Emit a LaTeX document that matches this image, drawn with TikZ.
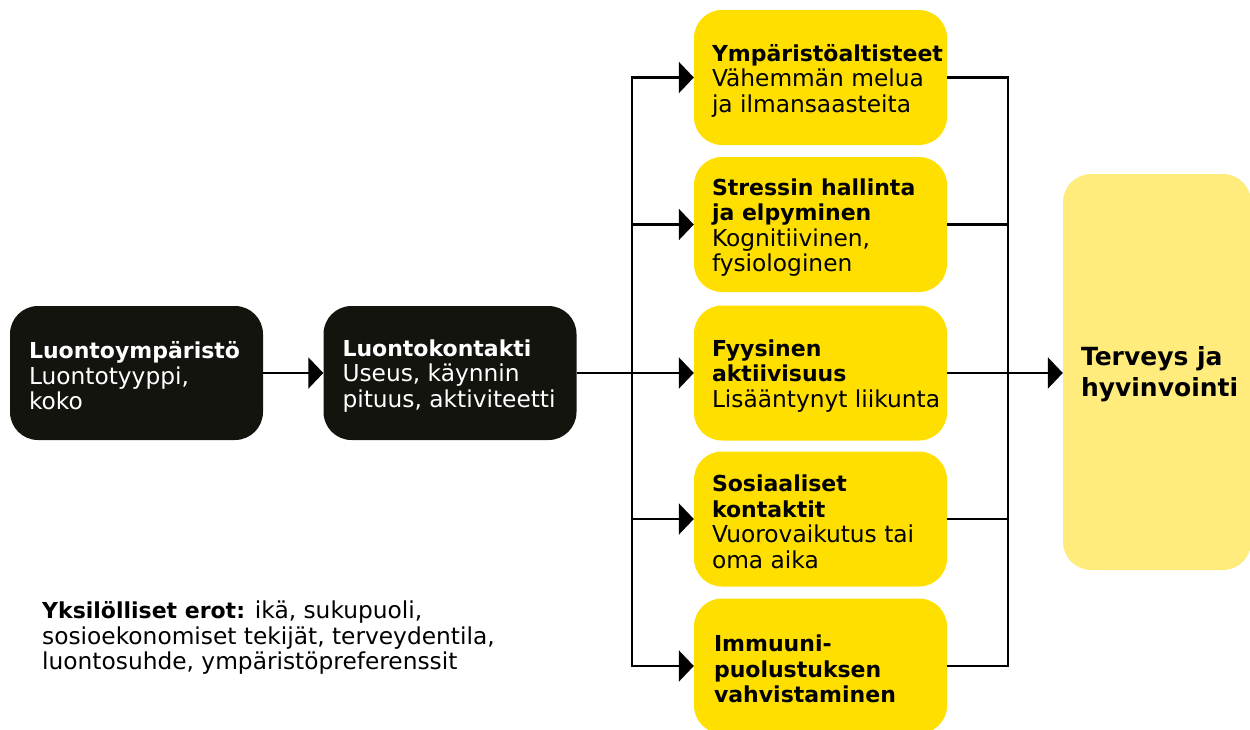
\documentclass[tikz,border=0pt]{standalone}
\usepackage{fontspec}
\setmainfont{DejaVu Sans}
\usetikzlibrary{arrows.meta}
\definecolor{boxblack}{HTML}{14140F}
\definecolor{boxyellow}{HTML}{FFDF00}
\definecolor{paleyellow}{HTML}{FFEC7D}
\newcommand\bt[1]{{\fontsize{22}{25.5}\selectfont\bfseries #1}}
\begin{document}
\begin{tikzpicture}[x=1pt,y=-1pt,
  darkbox/.style={fill=boxblack, rounded corners=28pt, minimum width=253pt, minimum height=134pt, inner sep=0pt},
  ybox/.style={fill=boxyellow, rounded corners=28pt, minimum width=253pt, minimum height=135pt, inner sep=0pt},
  bigbox/.style={fill=paleyellow, rounded corners=28pt, minimum width=188pt, minimum height=396pt, inner sep=0pt},
  txt/.style={font=\fontsize{23.3}{25.5}\selectfont, align=left, inner sep=0pt, anchor=west},
  bigtxt/.style={font=\fontsize{25}{31}\selectfont\bfseries, align=left, inner sep=0pt, anchor=west},
  conn/.style={draw=black, line width=2.4pt},
  arr/.style={conn, -{Triangle[length=15pt,width=31pt]}}
]
\useasboundingbox (0,0) rectangle (1250,729);

% boxes
\node[darkbox] (env) at (136.5,373) {};
\node[darkbox] (contact) at (450,373) {};
\node[ybox] (y1) at (820.5,77.5) {};
\node[ybox] (y2) at (820.5,224.5) {};
\node[ybox] (y3) at (820.5,373) {};
\node[ybox] (y4) at (820.5,519) {};
\node[ybox] (y5) at (820.5,666) {};
\node[bigbox] (health) at (1157,372) {};

% texts
\node[txt, text=white] (envt) at ([xshift=19pt,yshift=-3pt]env.west) {\bt{Luontoympäristö}\\Luontotyyppi,\\koko};
\node[txt, text=white] (contactt) at ([xshift=19pt,yshift=-3pt]contact.west) {\bt{Luontokontakti}\\Useus, käynnin\\pituus, aktiviteetti};
\node[txt] (y1t) at ([xshift=18pt,yshift=-3pt]y1.west) {\bt{Ympäristöaltisteet}\\Vähemmän melua\\ja ilmansaasteita};
\node[txt] (y2t) at ([xshift=18pt,yshift=-3pt]y2.west) {\bt{Stressin hallinta}\\\bt{ja elpyminen}\\Kognitiivinen,\\fysiologinen};
\node[txt] (y3t) at ([xshift=18pt,yshift=-3pt]y3.west) {\bt{Fyysinen}\\\bt{aktiivisuus}\\Lisääntynyt liikunta};
\node[txt] (y4t) at ([xshift=18pt,yshift=-3pt]y4.west) {\bt{Sosiaaliset}\\\bt{kontaktit}\\Vuorovaikutus tai\\oma aika};
\node[txt] (y5t) at ([xshift=20pt,yshift=-3pt]y5.west) {\bt{Immuuni-}\\\bt{puolustuksen}\\\bt{vahvistaminen}};
\node[bigtxt] (healtht) at ([xshift=18pt,yshift=-2pt]health.west) {Terveys ja\\hyvinvointi};
\node[txt] (notes) at (42,638) {\bt{Yksilölliset erot:} ikä, sukupuoli,\\sosioekonomiset tekijät, terveydentila,\\luontosuhde, ympäristöpreferenssit};

% bus coordinates
\coordinate (lbus) at (632,0);
\coordinate (rbus) at (1008,0);

% connectors
\draw[arr] (env) -- (contact);
\draw[arr] (contact.east) -- (y3.west);
\draw[conn, line cap=rect] (y1.west -| lbus) -- (y5.west -| lbus);
\draw[arr] (y1.west -| lbus) -- (y1.west);
\draw[arr] (y2.west -| lbus) -- (y2.west);
\draw[arr] (y4.west -| lbus) -- (y4.west);
\draw[arr] (y5.west -| lbus) -- (y5.west);

\draw[conn, line cap=rect] (y1.east -| rbus) -- (y5.east -| rbus);
\draw[conn] (y1.east) -- (y1.east -| rbus);
\draw[conn] (y2.east) -- (y2.east -| rbus);
\draw[conn] (y3.east) -- (y3.east -| rbus);
\draw[conn] (y4.east) -- (y4.east -| rbus);
\draw[conn] (y5.east) -- (y5.east -| rbus);
\draw[arr] (y3.east -| rbus) -- (health.west |- y3.east);
\end{tikzpicture}
\end{document}
